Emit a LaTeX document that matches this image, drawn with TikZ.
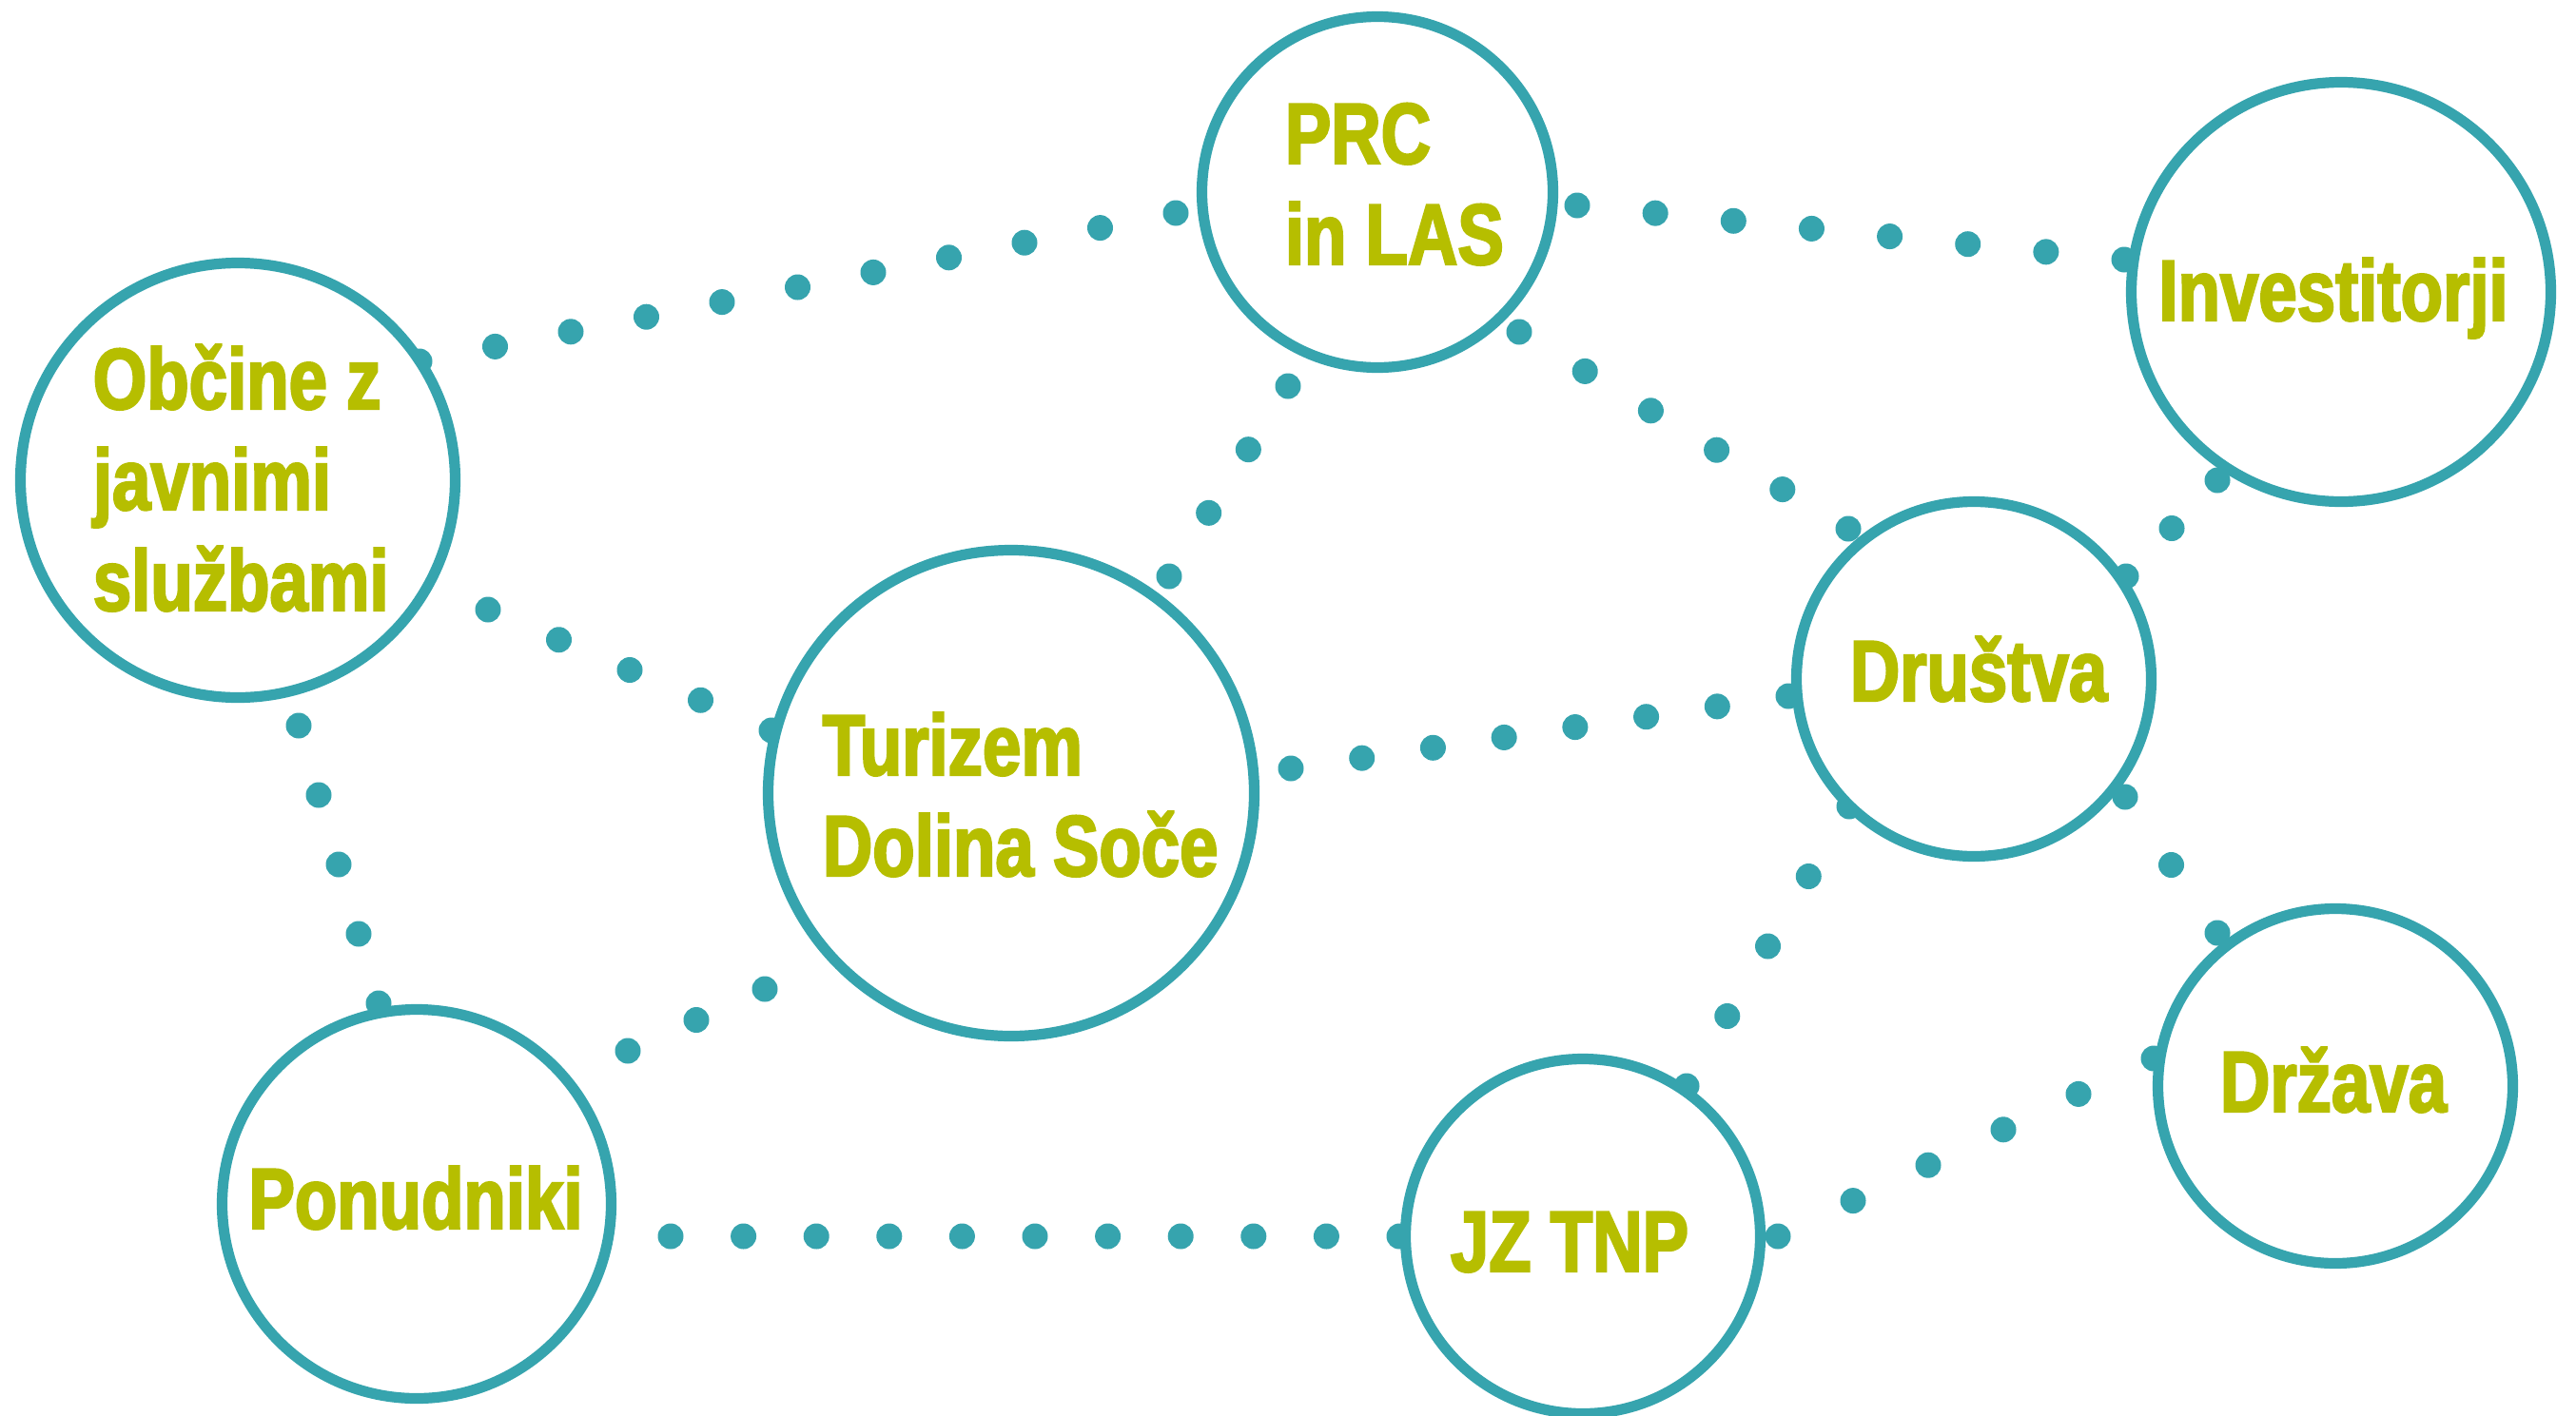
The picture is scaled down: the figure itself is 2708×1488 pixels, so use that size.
\documentclass[tikz,border=0pt]{standalone}
\usepackage{fontspec}
\setmainfont{Liberation Sans}[FakeStretch=0.8, BoldFeatures={FakeBold=2.5}]
\usetikzlibrary{calc,backgrounds}
\definecolor{ringc}{RGB}{54,164,174}
\definecolor{labelc}{RGB}{182,190,0}
\newcommand\dotrow[3]{\foreach \k in {0,...,#3}{\fill[dotc] ($(#1)!\k/#3!(#2)$) circle[radius=3.375pt];}}
\begin{document}
\begin{tikzpicture}[x=0.25pt, y=-0.25pt,
  ring/.style={circle, draw=ringc, line width=2.8pt, fill=white, inner sep=0pt, outer sep=0pt},
  lbl/.style={anchor=base west, inner sep=0pt, text=labelc, font=\fontsize{22.7}{26.5}\selectfont\bfseries},
  lblc/.style={lbl, anchor=base},
  dotc/.style={fill=ringc}]
\useasboundingbox (0,0) rectangle (2708,1488);
% circles
\node[ring, minimum size=114.25pt] (O) at (250,505) {};
\node[ring, minimum size=92.25pt]  (P) at (1448,202) {};
\node[ring, minimum size=110.25pt] (I) at (2461,307) {};
\node[ring, minimum size=93.25pt]  (D) at (2075,714) {};
\node[ring, minimum size=127.75pt] (T) at (1063,834) {};
\node[ring, minimum size=102.25pt] (N) at (438,1266) {};
\node[ring, minimum size=93.25pt]  (J) at (1664,1300) {};
\node[ring, minimum size=93.25pt]  (Z) at (2455,1142) {};
% labels
\node[lbl] (Ot1) at (97,430) {Občine z};
\node[lbl] (Ot2) at (97,536) {javnimi};
\node[lbl] (Ot3) at (97,642) {službami};
\node[lbl] (Pt1) at (1350,172) {PRC};
\node[lbl] (Pt2) at (1350,278) {in LAS};
\node[lblc] (It) at (2453,337) {Investitorji};
\node[lblc] (Dt) at (2080,737) {Društva};
\node[lbl] (Tt1) at (864,815) {Turizem};
\node[lbl] (Tt2) at (864,921) {Dolina Soče};
\node[lblc] (Nt) at (437,1292) {Ponudniki};
\node[lblc] (Jt) at (1650,1337) {JZ TNP};
\node[lblc] (Zt) at (2453,1169) {Država};
% connector end points
\coordinate (OPa) at (441,380);   \coordinate (OPb) at (1236,224);
\coordinate (PIa) at (1658,216);  \coordinate (PIb) at (2233,273);
\coordinate (PDa) at (1597,349);  \coordinate (PDb) at (1943,556);
\coordinate (PTa) at (1354,406);  \coordinate (PTb) at (1229,606);
\coordinate (OTa) at (513,641);   \coordinate (OTb) at (811,768);
\coordinate (ONa) at (314,763);   \coordinate (ONb) at (398,1055);
\coordinate (TNa) at (804,1040);  \coordinate (TNb) at (660,1105);
\coordinate (TDa) at (1357,808);  \coordinate (TDb) at (1880,732);
\coordinate (DIa) at (2235,606);  \coordinate (DIb) at (2331,505);
\coordinate (DZa) at (2234,838);  \coordinate (DZb) at (2331,981);
\coordinate (DJa) at (1944,848);  \coordinate (DJb) at (1773,1142);
\coordinate (NJa) at (705,1300);  \coordinate (NJb) at (1471,1300);
\coordinate (JZa) at (1869,1300); \coordinate (JZb) at (2264,1113);
\begin{scope}[on background layer]
\fill[white] (0,0) rectangle (2708,1488);
\dotrow{OPa}{OPb}{10}
\dotrow{PIa}{PIb}{7}
\dotrow{PDa}{PDb}{5}
\dotrow{PTa}{PTb}{3}
\dotrow{OTa}{OTb}{4}
\dotrow{ONa}{ONb}{4}
\dotrow{TNa}{TNb}{2}
\dotrow{TDa}{TDb}{7}
\dotrow{DIa}{DIb}{2}
\dotrow{DZa}{DZb}{2}
\dotrow{DJa}{DJb}{4}
\dotrow{NJa}{NJb}{10}
\dotrow{JZa}{JZb}{5}
\end{scope}
\end{tikzpicture}
\end{document}
